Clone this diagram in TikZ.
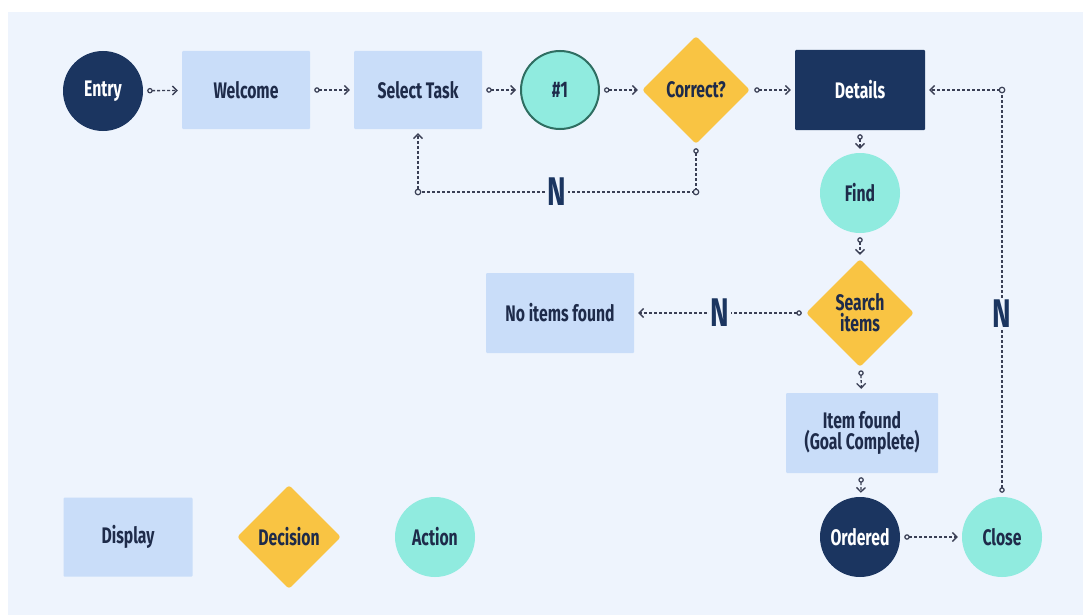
\documentclass[tikz,border=0pt]{standalone}
\usepackage{fontspec}
\setmainfont{Fira Sans}[FakeStretch=0.7]
\usetikzlibrary{shapes.geometric,arrows.meta}
\definecolor{bgc}{HTML}{EEF4FD}
\definecolor{navy}{HTML}{1B3560}
\definecolor{txt}{HTML}{1E2B4A}
\definecolor{disp}{HTML}{C9DDF9}
\definecolor{yel}{HTML}{F9C443}
\definecolor{teal}{HTML}{90EBDF}
\definecolor{tealb}{HTML}{2F6E62}
\definecolor{linec}{HTML}{3A3F55}
\tikzset{
  x=1pt,y=-1pt,
  lbl/.style={font=\fontsize{22.5}{25}\selectfont\bfseries, text=txt, align=center},
  dispbox/.style={lbl, fill=disp, minimum width=129pt, minimum height=79pt, inner sep=0pt, rounded corners=1pt},
  decis/.style={lbl, diamond, aspect=1, fill=yel, minimum size=108pt, inner sep=0pt, rounded corners=3pt},
  actn/.style={lbl, circle, fill=teal, minimum size=80pt, inner sep=0pt},
  startc/.style={lbl, circle, fill=navy, text=white, minimum size=80pt, inner sep=0pt},
  conn/.style={draw=linec, line width=1.3pt, dash pattern=on 3pt off 2pt,
     {Circle[open,length=5.5pt,width=5.5pt,line width=1.2pt]}-{Straight Barb[length=4.5pt,width=9pt,line width=1.3pt]},
     shorten <=4pt, shorten >=4pt},
  nlab/.style={fill=bgc, text=navy, font=\fontsize{40}{40}\selectfont\bfseries, inner sep=2pt},
  dot/.style={circle, draw=linec, fill=bgc, line width=1.2pt, inner sep=0pt, minimum size=5.5pt}
}
\begin{document}
\begin{tikzpicture}
\useasboundingbox (0,0) rectangle (1083,615);
\fill[white] (0,0) rectangle (1083,615);
\fill[bgc] (8,12) rectangle (1083,615);

\node[startc] (entry) at (103,91) {Entry};
\node[dispbox, minimum width=128pt, minimum height=78pt] (welcome) at (246,90) {Welcome};
\node[dispbox, minimum width=128pt, minimum height=78pt] (select) at (418,90) {Select Task};
\node[actn, draw=tealb, line width=2pt, minimum size=78pt] (one) at (560,90) {\#1};
\node[decis] (correct) at (696,90) {Correct?};
\node[dispbox, fill=navy, text=white, minimum width=130pt, minimum height=80pt] (details) at (860,90) {Details};
\node[actn] (find) at (860,193) {Find};
\node[decis] (search) at (860,313) {Search\\[-4pt]items};
\node[dispbox, minimum width=148pt, minimum height=80pt] (noitems) at (560,313) {No items found};
\node[dispbox, minimum width=152pt, minimum height=80pt] (itemfound) at (862,433) {Item found\\[-4pt](Goal Complete)};
\node[startc] (ordered) at (860,537) {Ordered};
\node[actn] (close) at (1002,537) {Close};

\node[dispbox] (display) at (128,537) {Display};
\node[decis, minimum size=104pt] (decision) at (289,537) {Decision};
\node[actn] (action) at (435,537) {Action};

\coordinate (c1) at (696,192);
\coordinate (c2) at (418,192);
\coordinate (c3) at (1002,90);

\draw[conn] (entry) -- (welcome);
\draw[conn] (welcome) -- (select);
\draw[conn] (select) -- (one);
\draw[conn] (one) -- (correct);
\draw[conn] (correct) -- (details);
\draw[conn] (details) -- (find);
\draw[conn] (find) -- (search);
\draw[conn] (search) -- (itemfound);
\draw[conn] (itemfound) -- (ordered);
\draw[conn] (ordered) -- (close);
\draw[conn] (search) -- node[nlab] {N} (noitems);

\draw[conn] (correct.south) -- (c1) -- node[nlab] {N} (c2) -- (select.south);
\draw[conn] (close.north) -- node[nlab, pos=0.45] {N} (c3) -- (details.east);
\node[dot] (d1) at (c1) {};
\node[dot] (d2) at (c2) {};
\node[dot] (d3) at (c3) {};
\end{tikzpicture}
\end{document}
